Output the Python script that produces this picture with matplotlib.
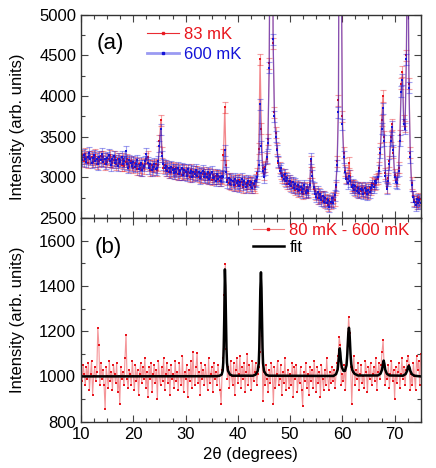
import numpy as np
import matplotlib
matplotlib.use('Agg')
import matplotlib.pyplot as plt
from matplotlib.lines import Line2D
from matplotlib.ticker import MultipleLocator

plt.rcParams['font.family'] = ['Liberation Sans', 'DejaVu Sans']

# ---- panel (a): diffraction patterns, 2theta step 0.25 deg ----
tth_a = np.round(np.arange(10.0, 75.001, 0.25), 2)

i_600mK = [
    3260, 3210, 3280, 3230, 3190, 3250, 3300, 3220,
    3180, 3240, 3270, 3200, 3230, 3160, 3250, 3210,
    3290, 3190, 3230, 3170, 3240, 3280, 3200, 3150,
    3220, 3260, 3180, 3210, 3140, 3230, 3190, 3250,
    3170, 3200, 3320, 3160, 3120, 3210, 3180, 3140,
    3190, 3130, 3170, 3210, 3100, 3150, 3180, 3090,
    3140, 3200, 3290, 3180, 3110, 3160, 3090, 3130,
    3170, 3100, 3120, 3200, 3380, 3590, 3260, 3160,
    3110, 3140, 3080, 3120, 3060, 3130, 3090, 3050,
    3100, 3070, 3120, 3040, 3080, 3110, 3030, 3090,
    3060, 3020, 3100, 3050, 3080, 3010, 3070, 3040,
    3090, 3020, 3060, 2990, 3050, 3080, 3010, 3040,
    3000, 3060, 2980, 3030, 3070, 2990, 3010, 2960,
    3040, 2980, 3010, 2960, 3020, 3010, 3330, 3060,
    2940, 2990, 2920, 2970, 2950, 2900, 2980, 2930,
    2960, 2890, 2940, 2980, 2910, 2950, 2880, 2930,
    2960, 2900, 2940, 2870, 2920, 2960, 2950, 3010,
    3150, 3900, 3380, 3080, 3000, 3100, 3250, 3420,
    4350, 7200, 8500, 4700, 3750, 3500, 3330, 3200,
    3080, 3110, 3020, 2980, 3040, 2950, 2990, 2920,
    2960, 2890, 2940, 2870, 2920, 2860, 2900, 2840,
    2880, 2820, 2860, 2900, 2810, 2850, 2830, 2900,
    3230, 3020, 2880, 2800, 2760, 2820, 2740, 2790,
    2720, 2770, 2700, 2750, 2680, 2720, 2640, 2700,
    2740, 2690, 2780, 2900, 3150, 3800, 9200, 6200,
    3650, 3250, 3060, 2980, 2930, 3020, 2950, 2880,
    2910, 2850, 2890, 2830, 2870, 2810, 2860, 2840,
    2800, 2870, 2830, 2790, 2850, 2820, 2870, 2900,
    2880, 2950, 2930, 3010, 3080, 3300, 3600, 3850,
    3450, 3020, 2860, 2960, 3160, 3450, 3620, 3330,
    3000, 2940, 2930, 3080, 3450, 4050, 4200, 3650,
    3600, 4450, 6300, 4100, 3250, 2900, 2760, 2700,
    2660, 2730, 2680, 2720, 2690,
]

i_83mK = [
    3230, 3270, 3200, 3290, 3240, 3180, 3260, 3230,
    3250, 3190, 3220, 3280, 3170, 3240, 3200, 3260,
    3210, 3250, 3160, 3230, 3190, 3220, 3270, 3200,
    3180, 3210, 3250, 3160, 3230, 3180, 3210, 3150,
    3230, 3140, 3190, 3220, 3170, 3130, 3200, 3160,
    3120, 3180, 3140, 3100, 3170, 3120, 3090, 3160,
    3110, 3170, 3230, 3250, 3140, 3090, 3150, 3100,
    3130, 3160, 3090, 3150, 3450, 3700, 3300, 3120,
    3150, 3090, 3130, 3060, 3110, 3070, 3120, 3080,
    3050, 3110, 3040, 3090, 3060, 3030, 3100, 3050,
    3080, 3040, 3060, 3010, 3090, 3050, 3020, 3070,
    3030, 3070, 3010, 3050, 3000, 3040, 3060, 3000,
    3040, 2990, 3050, 3010, 2970, 3030, 2980, 3020,
    2980, 3020, 2960, 3000, 2990, 3280, 3860, 3150,
    2970, 2930, 2980, 2910, 2960, 2940, 2900, 2960,
    2910, 2970, 2900, 2940, 2880, 2960, 2920, 2890,
    2920, 2950, 2880, 2930, 2900, 2880, 2970, 3050,
    3350, 4450, 3600, 3120, 3040, 3130, 3230, 3470,
    4400, 7200, 8500, 4650, 3800, 3550, 3350, 3180,
    3120, 3050, 3000, 3030, 2960, 3000, 2920, 2960,
    2900, 2940, 2870, 2910, 2850, 2890, 2830, 2880,
    2840, 2870, 2800, 2860, 2830, 2880, 2810, 2920,
    3200, 3060, 2860, 2830, 2790, 2740, 2800, 2750,
    2760, 2710, 2760, 2690, 2730, 2660, 2710, 2680,
    2700, 2750, 2720, 2880, 3200, 3950, 9200, 6300,
    3750, 3300, 3080, 3000, 2980, 3180, 3020, 2900,
    2870, 2900, 2840, 2880, 2820, 2860, 2830, 2870,
    2840, 2810, 2860, 2830, 2800, 2880, 2850, 2930,
    2920, 2910, 2970, 2980, 3120, 3350, 3700, 4000,
    3500, 3050, 2880, 2990, 3200, 3500, 3650, 3300,
    3030, 2960, 2980, 3120, 3520, 4150, 4300, 3700,
    3620, 4500, 6300, 4150, 3300, 2930, 2770, 2720,
    2700, 2680, 2740, 2700, 2730,
]

err_600mK = 68
err_83mK = 68

# ---- panel (b): difference (offset by 1000), 2theta step 0.2 deg ----
tth_b = np.round(np.arange(10.0, 75.001, 0.2), 1)

i_diff = [
    1030, 980, 1050, 1010, 960, 1040, 990, 1060, 940, 1010,
    1070, 920, 1000, 1040, 980, 1020, 1215, 1140, 960, 1060,
    990, 1030, 960, 855, 1040, 1000, 950, 1070, 980, 1020,
    940, 1050, 1010, 970, 1060, 930, 1000, 880, 1040, 990,
    1020, 960, 1080, 1185, 990, 950, 1030, 1010, 960, 1070,
    1000, 940, 1050, 980, 1030, 920, 1010, 1060, 970, 1040,
    990, 1080, 950, 1020, 910, 1040, 990, 1060, 930, 1010,
    1050, 970, 1030, 900, 1070, 1000, 960, 1040, 980, 1080,
    940, 1010, 1060, 970, 1030, 920, 1050, 990, 1010, 950,
    1070, 980, 1020, 940, 1060, 1000, 960, 1090, 930, 1020,
    990, 1050, 910, 1030, 980, 1070, 950, 1110, 1000, 960,
    1040, 1105, 970, 1020, 920, 1060, 990, 1030, 960, 1050,
    1000, 940, 1080, 970, 1010, 1040, 930, 1060, 990, 1020,
    960, 1050, 1000, 940, 880, 1030, 1080, 1360, 1495, 1120,
    990, 1040, 950, 1070, 1000, 960, 1060, 920, 1030, 1080,
    970, 1010, 1090, 950, 1040, 990, 1060, 930, 1020, 1100,
    960, 1050, 1000, 940, 1070, 980, 1020, 1060, 960, 1010,
    1040, 1110, 1430, 1180, 890, 1020, 960, 1050, 990, 930,
    1030, 970, 1060, 1000, 880, 1040, 950, 1010, 1070, 960,
    990, 1050, 920, 1020, 970, 1080, 940, 1000, 1030, 950,
    1010, 960, 1060, 910, 1040, 990, 1050, 930, 1000, 970,
    1040, 940, 870, 1020, 980, 1060, 950, 1010, 920, 1040,
    980, 1030, 950, 1070, 1000, 930, 1040, 970, 1020, 910,
    1050, 990, 940, 1030, 960, 1080, 1000, 940, 1020, 970,
    1040, 980, 1030, 950, 1010, 1060, 1090, 1175, 1140, 960,
    1010, 980, 1050, 940, 1080, 1150, 1264, 1190, 1040, 880,
    1020, 1090, 960, 1030, 990, 1060, 940, 1010, 1050, 970,
    1000, 950, 1070, 1020, 930, 1040, 990, 1060, 960, 1010,
    1040, 980, 1080, 940, 1020, 1060, 990, 1050, 1110, 1160,
    1040, 960, 1020, 990, 1050, 950, 1010, 1070, 980, 1030,
    900, 1040, 970, 1020, 1060, 950, 1010, 1080, 990, 1040,
    960, 1030, 1070, 1090, 1050, 940, 1010, 960, 1060, 1000,
    940, 1090, 1030, 1070, 960, 1100,
]

fit_x = [10.0, 36.0, 36.5, 36.9, 37.1, 37.2, 37.3, 37.4, 37.52, 37.62, 37.72, 37.82,
         37.92, 38.1, 38.5, 39.0, 42.9, 43.4, 43.8, 44.0, 44.1, 44.2, 44.3, 44.42,
         44.52, 44.62, 44.72, 44.82, 45.0, 45.4, 45.9, 58.3, 58.8, 59.1, 59.3, 59.4,
         59.5, 59.6, 59.7, 59.9, 60.2, 60.5, 60.8, 60.95, 61.05, 61.15, 61.26, 61.36,
         61.46, 61.56, 61.7, 61.9, 62.3, 63.0, 66.8, 67.3, 67.6, 67.75, 67.9, 68.05,
         68.2, 68.5, 69.0, 71.6, 72.1, 72.4, 72.55, 72.7, 72.85, 73.0, 73.3, 73.8, 75.0]
fit_y = [1000, 1001, 1003, 1008, 1025, 1060, 1130, 1260, 1473, 1400, 1260, 1130,
         1060, 1025, 1008, 1003, 1003, 1008, 1024, 1058, 1125, 1250, 1385, 1460,
         1390, 1255, 1128, 1058, 1024, 1008, 1003, 1002, 1010, 1030, 1075, 1105,
         1124, 1105, 1075, 1040, 1025, 1024, 1050, 1100, 1150, 1195, 1215, 1195,
         1150, 1100, 1055, 1028, 1012, 1004, 1004, 1012, 1030, 1055, 1070, 1055,
         1030, 1012, 1004, 1003, 1010, 1025, 1040, 1047, 1040, 1025, 1010, 1003, 1000]

red = '#e8141c'
blue = '#1414d8'

fig = plt.figure(figsize=(4.36, 4.68), dpi=100)
ax1 = fig.add_axes([0.186, 0.5342, 0.779, 0.4344])
ax2 = fig.add_axes([0.186, 0.099, 0.779, 0.4352], sharex=ax1)

# panel (a)
ax1.errorbar(tth_a, i_83mK, yerr=err_83mK, fmt='none', ecolor=red, alpha=0.4,
             elinewidth=0.8, capsize=2.5, capthick=0.8)
ax1.plot(tth_a, i_83mK, '-', color=red, alpha=0.5, lw=0.9)
ax1.plot(tth_a, i_83mK, 's', color=red, ms=2.0, mew=0)
ax1.errorbar(tth_a, i_600mK, yerr=err_600mK, fmt='none', ecolor=blue, alpha=0.4,
             elinewidth=0.8, capsize=2.5, capthick=0.8)
ax1.plot(tth_a, i_600mK, '-', color=blue, alpha=0.5, lw=0.9)
ax1.plot(tth_a, i_600mK, 's', color=blue, ms=2.0, mew=0)

ax1.set_xlim(10, 75)
ax1.set_ylim(2500, 5000)
ax1.yaxis.set_major_locator(MultipleLocator(500))
ax1.yaxis.set_minor_locator(MultipleLocator(250))
ax1.set_ylabel('Intensity (arb. units)', fontsize=12)
ax1.text(0.045, 0.86, '(a)', transform=ax1.transAxes, fontsize=16, va='center')
plt.setp(ax1.get_xticklabels(), visible=False)

h1 = [Line2D([], [], color=red, lw=0.8, marker='s', ms=2, mfc=red, mec=red, alpha=0.9),
      Line2D([], [], color='#9a9af2', lw=2.0, marker='s', ms=2, mfc=blue, mec=blue)]
leg1 = ax1.legend(h1, ['83 mK', '600 mK'], loc='upper left', bbox_to_anchor=(0.195, 0.94),
                  frameon=False, fontsize=12, handlelength=1.9, handletextpad=0.3,
                  labelspacing=0.3, borderpad=0, borderaxespad=0)
for t, c in zip(leg1.get_texts(), [red, blue]):
    t.set_color(c)

# panel (b)
ax2.plot(tth_b, i_diff, '-', color=red, alpha=0.45, lw=0.8)
ax2.plot(tth_b, i_diff, 's', color=red, ms=1.8, mew=0)
ax2.plot(fit_x, fit_y, '-', color='black', lw=1.8)

ax2.set_ylim(800, 1700)
ax2.set_yticks([800, 1000, 1200, 1400, 1600])
ax2.yaxis.set_minor_locator(MultipleLocator(100))
ax2.xaxis.set_major_locator(MultipleLocator(10))
ax2.xaxis.set_minor_locator(MultipleLocator(2.5))
ax2.set_xlabel('2\u03b8 (degrees)', fontsize=12)
ax2.set_ylabel('Intensity (arb. units)', fontsize=12)
ax2.text(0.04, 0.857, '(b)', transform=ax2.transAxes, fontsize=16, va='center')

h2 = [Line2D([], [], color='#f08080', lw=0.8, marker='s', ms=2, mfc=red, mec=red),
      Line2D([], [], color='black', lw=1.8)]
leg2 = ax2.legend(h2, ['80 mK - 600 mK', 'fit'], loc='upper left', bbox_to_anchor=(0.505, 0.975),
                  frameon=False, fontsize=12, handlelength=1.9, handletextpad=0.3,
                  labelspacing=0.1, borderpad=0, borderaxespad=0)
for t, c in zip(leg2.get_texts(), [red, 'black']):
    t.set_color(c)

for ax in (ax1, ax2):
    ax.tick_params(which='both', direction='in', top=True, right=True, labelsize=12,
                   color='#444444')
    ax.tick_params(which='major', length=5, width=0.8)
    ax.tick_params(which='minor', length=3, width=0.8)
    for s in ax.spines.values():
        s.set_linewidth(1.0)
        s.set_color('#333333')

ax1.yaxis.set_label_coords(-0.165, 0.45)
ax2.yaxis.set_label_coords(-0.165, 0.5)

fig.savefig('out.png', dpi=100)
